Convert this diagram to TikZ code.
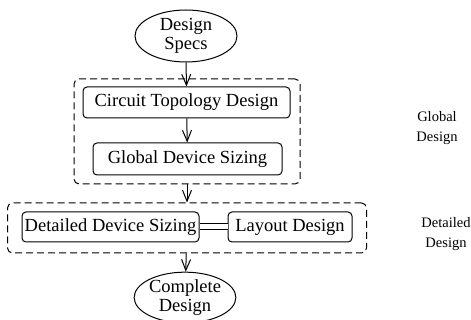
\documentclass[tikz,border=0pt]{standalone}
\usepackage{fontspec}
\setmainfont{Liberation Serif}
\usetikzlibrary{shapes.geometric,arrows.meta}
\begin{document}
\begin{tikzpicture}[x=1pt,y=-1pt,
  box/.style={draw,rounded corners=4pt,line width=1pt,inner sep=0pt,font=\fontsize{18.5}{20}\selectfont},
  oval/.style={ellipse,draw,line width=1pt,inner sep=0pt,align=center,font=\fontsize{18.5}{19}\selectfont},
  grp/.style={draw,dash pattern=on 7pt off 4pt,rounded corners=5pt,line width=1pt,inner sep=0pt},
  arr/.style={-{Straight Barb[length=11pt,width=9pt]},line width=1pt},
  lab/.style={align=center,inner sep=0pt,font=\fontsize{14.5}{20}\selectfont}]
\useasboundingbox (0,0) rectangle (471,320);
\node[oval,minimum width=102pt,minimum height=52pt] (spec) at (186,36) {Design\\Specs};
\node[grp,minimum width=226pt,minimum height=105pt] (glob) at (187,131.5) {};
\node[box,minimum width=207pt,minimum height=31pt] (topo) at (186.5,102.5) {Circuit Topology Design};
\node[box,minimum width=189pt,minimum height=32pt] (gsize) at (187.5,159) {Global Device Sizing};
\node[grp,minimum width=359pt,minimum height=50pt] (det) at (187,228) {};
\node[box,minimum width=177pt,minimum height=30pt] (dsize) at (110.5,227) {Detailed Device Sizing};
\node[box,minimum width=124pt,minimum height=30pt] (lay) at (290,227) {Layout Design};
\node[oval,minimum width=98pt,minimum height=43pt] (done) at (185,297.5) {Complete\\Design};
\node[lab] (gl) at (437,128) {Global\\Design};
\node[lab] (dl) at (446,234) {Detailed\\Design};
\draw[arr] (spec.south) -- (topo.north);
\draw[arr] (topo) -- (gsize);
\draw[arr] (glob) -- (det);
\draw[arr] (det) -- (done);
\draw[double,double distance=5pt,line width=1pt] (dsize) -- (lay);
\end{tikzpicture}
\end{document}
